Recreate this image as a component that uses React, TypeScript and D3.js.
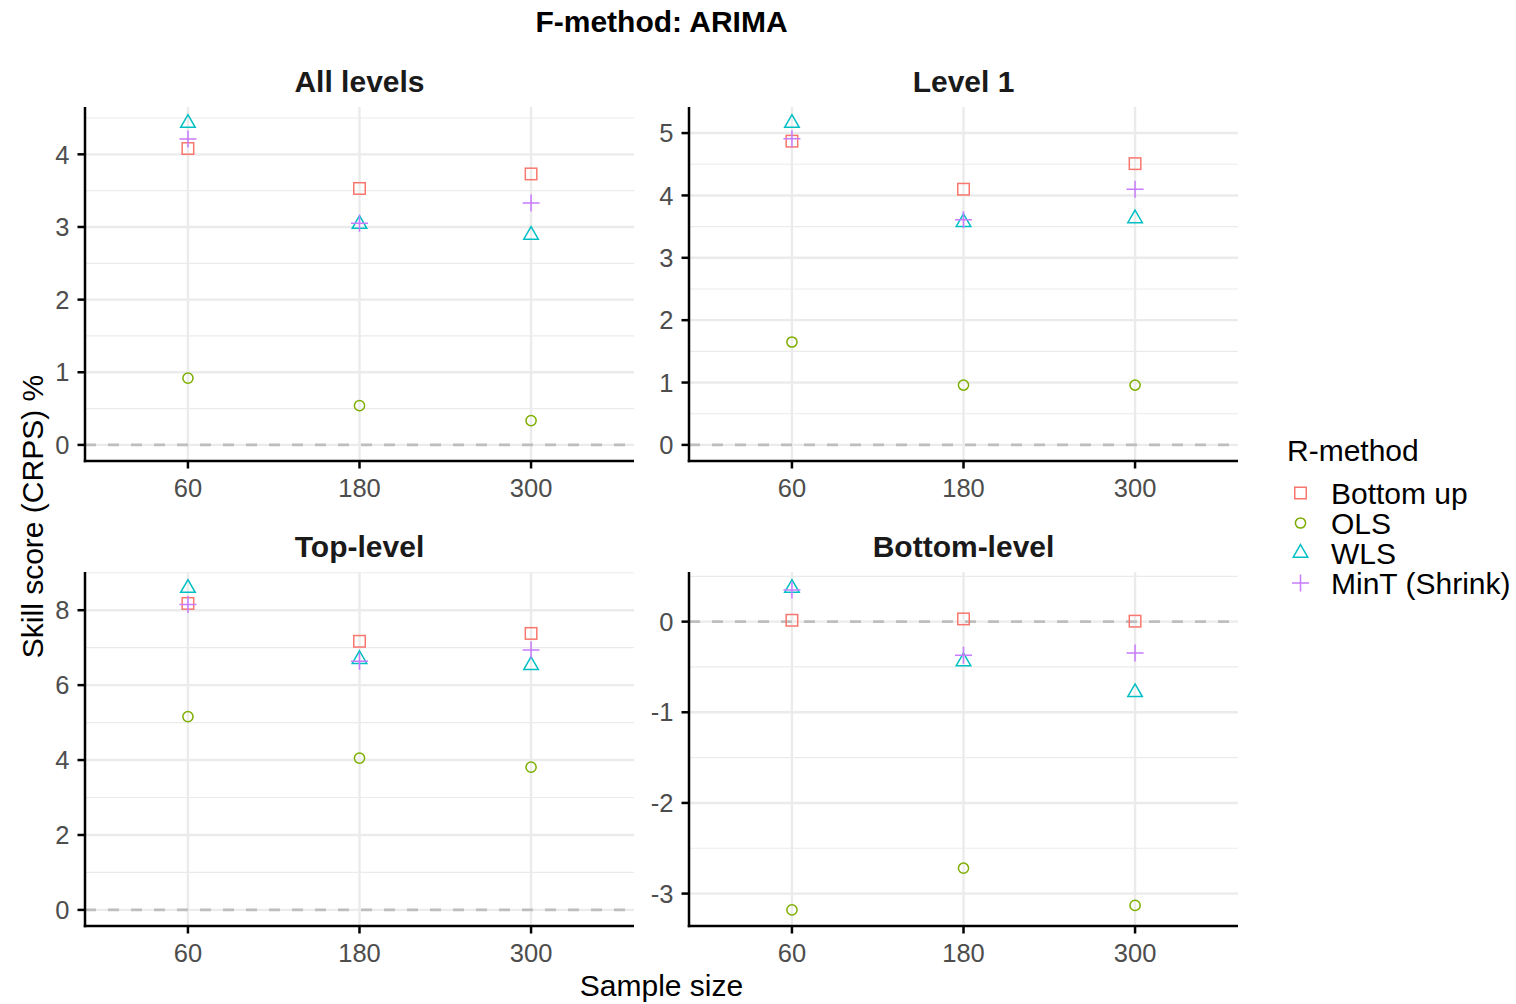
import React from "react";
import * as d3 from "d3";

// ---------- data ----------
const sampleSizes = ["60", "180", "300"];
const methods = ["Bottom up", "OLS", "WLS", "MinT (Shrink)"];
const methodColors = ["#F8766D", "#7CAE00", "#00BFC4", "#C77CFF"];
const methodShapes = ["square", "circle", "triangle", "plus"];

const panelTitles = ["All levels", "Level 1", "Top-level", "Bottom-level"];

// values per method (Bottom up, OLS, WLS, MinT) at sample sizes 60, 180, 300
const allLevelsBU = [4.08, 3.53, 3.73];
const allLevelsOLS = [0.92, 0.54, 0.335];
const allLevelsWLS = [4.43, 3.04, 2.89];
const allLevelsMinT = [4.21, 3.05, 3.33];

const level1BU = [4.87, 4.1, 4.51];
const level1OLS = [1.65, 0.96, 0.96];
const level1WLS = [5.16, 3.57, 3.63];
const level1MinT = [4.91, 3.61, 4.1];

const topLevelBU = [8.18, 7.17, 7.38];
const topLevelOLS = [5.16, 4.05, 3.81];
const topLevelWLS = [8.59, 6.69, 6.53];
const topLevelMinT = [8.15, 6.64, 6.94];

const bottomLevelBU = [0.015, 0.03, 0.005];
const bottomLevelOLS = [-3.18, -2.72, -3.13];
const bottomLevelWLS = [0.37, -0.44, -0.78];
const bottomLevelMinT = [0.35, -0.37, -0.345];

const panelSeries = [
  [allLevelsBU, allLevelsOLS, allLevelsWLS, allLevelsMinT],
  [level1BU, level1OLS, level1WLS, level1MinT],
  [topLevelBU, topLevelOLS, topLevelWLS, topLevelMinT],
  [bottomLevelBU, bottomLevelOLS, bottomLevelWLS, bottomLevelMinT],
];

// ---------- layout ----------
const W = 1516;
const H = 1004;
const FONT = "'Liberation Sans', Arial, Helvetica, sans-serif";
const colX: [number, number][] = [
  [85, 634],
  [689, 1238],
];
const rowY: [number, number][] = [
  [107, 461],
  [572, 926],
];
const GRID = "#EBEBEB";
const TICK_TEXT = "#4D4D4D";
const TICK_FS = 25.5;
const TITLE_FS = 30;

function Symbol({ shape, cx, cy, color }: { shape: string; cx: number; cy: number; color: string }) {
  const sw = 1.5;
  if (shape === "square") {
    const s = 11.5;
    return <rect x={cx - s / 2} y={cy - s / 2} width={s} height={s} fill="none" stroke={color} strokeWidth={sw} />;
  }
  if (shape === "circle") {
    return <circle cx={cx} cy={cy} r={5.1} fill="none" stroke={color} strokeWidth={sw} />;
  }
  if (shape === "triangle") {
    const R = 8.4;
    const hw = (Math.sqrt(3) / 2) * R;
    const d = `M${cx},${cy - R}L${cx + hw},${cy + R / 2}L${cx - hw},${cy + R / 2}Z`;
    return <path d={d} fill="none" stroke={color} strokeWidth={sw} strokeLinejoin="miter" />;
  }
  const h = 8.5;
  const d = `M${cx - h},${cy}L${cx + h},${cy}M${cx},${cy - h}L${cx},${cy + h}`;
  return <path d={d} fill="none" stroke={color} strokeWidth={sw} />;
}

function Panel({ idx }: { idx: number }) {
  const [x0, x1] = colX[idx % 2];
  const [y0, y1] = rowY[Math.floor(idx / 2)];
  const series = panelSeries[idx];
  const x = d3.scalePoint<string>().domain(sampleSizes).range([x0, x1]).padding(0.6);
  const vals = series.flat().concat([0]);
  const mn = d3.min(vals) as number;
  const mx = d3.max(vals) as number;
  const pad = (mx - mn) * 0.05;
  const y = d3.scaleLinear().domain([mn - pad, mx + pad]).range([y1, y0]);
  const ticks = y.ticks(5);
  const step = ticks[1] - ticks[0];
  const minors: number[] = [];
  for (let i = -1; i < ticks.length; i++) {
    const v = ticks[0] + step * i + step / 2;
    if (v >= mn - pad && v <= mx + pad) minors.push(v);
  }
  const fmt = (v: number) => String(v);
  return (
    <g>
      {minors.map((v, i) => (
        <line key={"mi" + i} x1={x0} x2={x1} y1={y(v)} y2={y(v)} stroke={GRID} strokeWidth={1.2} />
      ))}
      {ticks.map((v, i) => (
        <line key={"ma" + i} x1={x0} x2={x1} y1={y(v)} y2={y(v)} stroke={GRID} strokeWidth={2.4} />
      ))}
      {sampleSizes.map((s) => (
        <line key={"vx" + s} x1={x(s)} x2={x(s)} y1={y0} y2={y1} stroke={GRID} strokeWidth={2.4} />
      ))}
      <line
        x1={x0}
        x2={x1}
        y1={y(0)}
        y2={y(0)}
        stroke="#BEBEBE"
        strokeWidth={2.6}
        strokeDasharray="11 12"
      />
      {series.map((vs, m) =>
        vs.map((v, j) => (
          <Symbol
            key={"p" + m + "-" + j}
            shape={methodShapes[m]}
            cx={x(sampleSizes[j]) as number}
            cy={y(v)}
            color={methodColors[m]}
          />
        ))
      )}
      {/* axes */}
      <line x1={x0} x2={x0} y1={y0} y2={y1 + 1.25} stroke="#000" strokeWidth={2.5} />
      <line x1={x0 - 1.25} x2={x1} y1={y1} y2={y1} stroke="#000" strokeWidth={2.5} />
      {ticks.map((v, i) => (
        <g key={"yt" + i}>
          <line x1={x0 - 7.5} x2={x0} y1={y(v)} y2={y(v)} stroke="#000" strokeWidth={2.5} />
          <text
            x={x0 - 15.5}
            y={y(v)}
            dy="0.36em"
            textAnchor="end"
            fontFamily={FONT}
            fontSize={TICK_FS}
            fill={TICK_TEXT}
          >
            {fmt(v)}
          </text>
        </g>
      ))}
      {sampleSizes.map((s) => (
        <g key={"xt" + s}>
          <line x1={x(s)} x2={x(s)} y1={y1} y2={y1 + 7.5} stroke="#000" strokeWidth={2.5} />
          <text x={x(s)} y={y1 + 36} textAnchor="middle" fontFamily={FONT} fontSize={TICK_FS} fill={TICK_TEXT}>
            {s}
          </text>
        </g>
      ))}
      <text
        x={(x0 + x1) / 2}
        y={y0 - 15}
        textAnchor="middle"
        fontFamily={FONT}
        fontSize={TITLE_FS}
        fontWeight="bold"
        fill="#1A1A1A"
      >
        {panelTitles[idx]}
      </text>
    </g>
  );
}

export default function App() {
  const legendY0 = 493;
  const legendStep = 30;
  return (
    <svg
      width={W}
      height={H}
      viewBox={`0 0 ${W} ${H}`}
      style={{ position: "absolute", left: 0, top: 0, background: "#fff" }}
    >
      <rect x={0} y={0} width={W} height={H} fill="#fff" />
      <text x={661.5} y={31.5} textAnchor="middle" fontFamily={FONT} fontSize={TITLE_FS} fontWeight="bold" fill="#000">
        F-method: ARIMA
      </text>
      {[0, 1, 2, 3].map((i) => (
        <Panel key={i} idx={i} />
      ))}
      <text x={661.5} y={996} textAnchor="middle" fontFamily={FONT} fontSize={TITLE_FS} fill="#000">
        Sample size
      </text>
      <text
        transform={`translate(43,516.5) rotate(-90)`}
        textAnchor="middle"
        fontFamily={FONT}
        fontSize={TITLE_FS}
        fill="#000"
      >
        Skill score (CRPS) %
      </text>
      {/* legend */}
      <text x={1287} y={461} fontFamily={FONT} fontSize={TITLE_FS} fill="#000">
        R-method
      </text>
      {methods.map((m, i) => (
        <g key={m}>
          <Symbol shape={methodShapes[i]} cx={1300.5} cy={legendY0 + i * legendStep} color={methodColors[i]} />
          <text
            x={1331}
            y={legendY0 + i * legendStep}
            dy="0.36em"
            fontFamily={FONT}
            fontSize={TITLE_FS}
            fill="#000"
          >
            {m}
          </text>
        </g>
      ))}
    </svg>
  );
}
